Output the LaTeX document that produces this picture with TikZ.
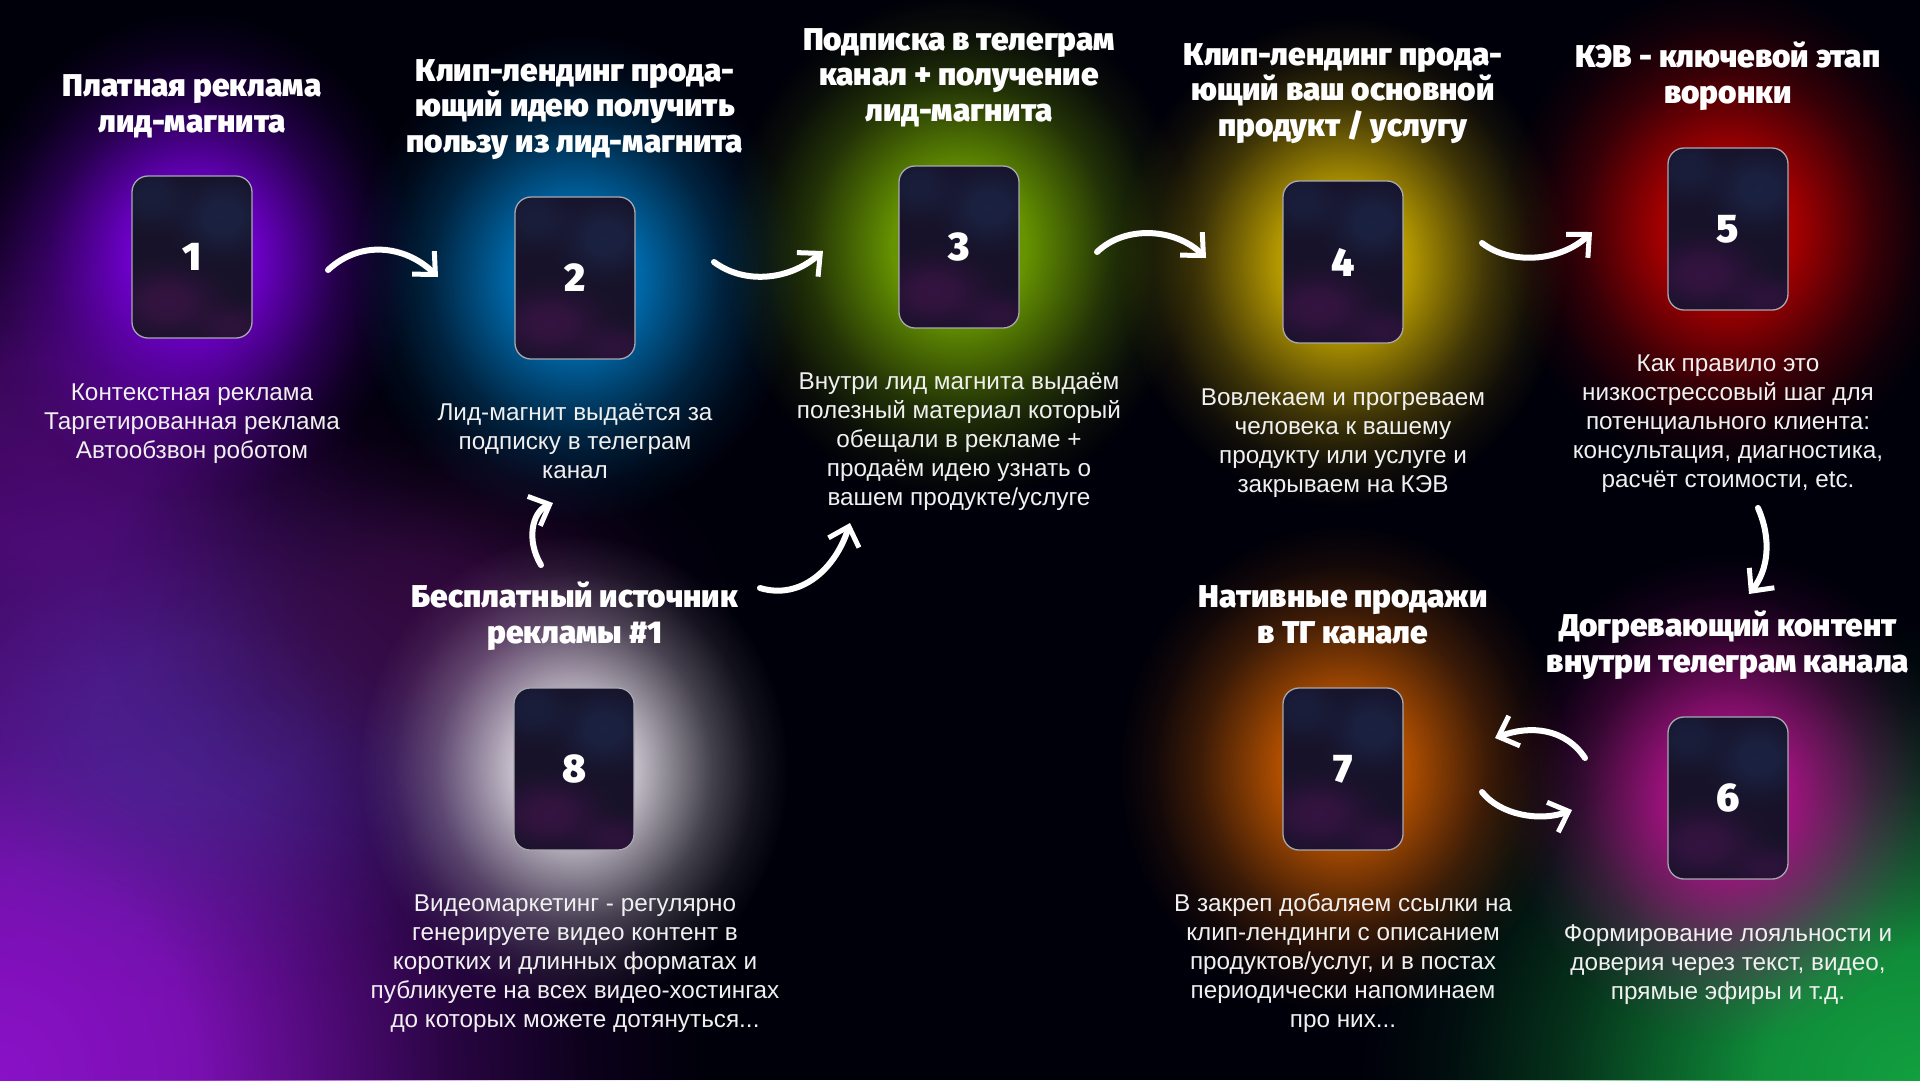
\documentclass[tikz,border=0pt]{standalone}
\usepackage{fontspec}
\setmainfont{Liberation Sans}
\newfontfamily\heavy{Fira Sans Black}
\usetikzlibrary{arrows.meta,fadings}
\pgfdeclareradialshading{glowsh}{\pgfpoint{0bp}{0bp}}{color(0bp)=(white); color(7bp)=(white!88!black); color(11bp)=(white!62!black); color(16bp)=(white!30!black); color(21bp)=(white!9!black); color(25bp)=(black); color(50bp)=(black)}
\pgfdeclarefading{glowfade}{\pgfuseshading{glowsh}}
\definecolor{cbase}{HTML}{171229}
\definecolor{cpurp}{HTML}{3E1448}
\definecolor{cblue}{HTML}{1C284A}
\definecolor{cborder}{HTML}{A8A8B0}
\definecolor{gA}{HTML}{7A00E0}
\definecolor{gB}{HTML}{0078C0}
\definecolor{gC}{HTML}{74A800}
\definecolor{gD}{HTML}{D0B000}
\definecolor{gE}{HTML}{C00000}
\definecolor{gF}{HTML}{B0108A}
\definecolor{gG}{HTML}{C85A00}
\definecolor{gH}{HTML}{E0DAE4}
\definecolor{hzpurple}{HTML}{8A12C8}
\definecolor{hzviolet}{HTML}{4A2A9A}
\definecolor{hzdark}{HTML}{3A0A44}
\definecolor{hzgreen}{HTML}{12A040}
\tikzset{
  glow/.style={fill=#1, path fading=glowfade},
  cardbox/.style={draw=cborder, line width=1.3pt, rounded corners=16pt,
    minimum width=120pt, minimum height=162pt, inner sep=0pt, text=white,
    font=\heavy\fontsize{40}{40}\selectfont},
  title/.style={text=white, align=center, anchor=base,
    font=\heavy\fontsize{31.5}{35.5}\selectfont},
  body/.style={text=white!94!black, align=center, anchor=base,
    font=\fontsize{24.3}{28.8}\selectfont},
  brush/.style={draw=white, line width=6pt, line cap=round,
    -{Straight Barb[length=17pt,width=32pt,line width=5pt]}},
}
\newcommand\mycard[4]{%
  \begin{scope}
    \clip[rounded corners=16pt] (#2-60,#3-81) rectangle (#2+60,#3+81);
    \fill[cbase] (#2-60,#3-81) rectangle (#2+60,#3+81);
    \fill[glow=cpurp, opacity=0.75] (#2-25,#3+45) ellipse (75pt and 50pt);
    \fill[glow=cblue, opacity=0.75] (#2+30,#3-40) ellipse (65pt and 55pt);
    \fill[glow=cpurp, opacity=0.55] (#2+40,#3+70) ellipse (55pt and 35pt);
    \fill[glow=cblue, opacity=0.55] (#2-40,#3-60) ellipse (50pt and 45pt);
  \end{scope}
  \node[cardbox] (#1) at (#2,#3) {#4};
}
\begin{document}
\begin{tikzpicture}[x=1pt,y=-1pt]
\useasboundingbox (0,0) rectangle (1920,1080);
\fill[black!96!blue] (0,0) rectangle (1920,1080);
\begin{scope}
\clip (0,0) rectangle (1920,1080);
% background haze
\fill[glow=hzpurple] (0,1080) ellipse (700pt and 760pt);
\fill[glow=hzviolet, opacity=0.7] (200,720) ellipse (380pt and 280pt);
\fill[glow=hzpurple, opacity=0.45] (40,450) ellipse (380pt and 320pt);
\fill[glow=hzdark, opacity=0.8] (420,620) ellipse (320pt and 220pt);
\fill[glow=hzgreen] (1920,1080) ellipse (560pt and 460pt);
% card glows
\fill[glow=gA] (192,257) ellipse (225pt and 245pt);
\fill[glow=gB] (575,278) ellipse (225pt and 245pt);
\fill[glow=gC] (959,247) ellipse (235pt and 255pt);
\fill[glow=gD] (1343,262) ellipse (225pt and 245pt);
\fill[glow=gE] (1728,229) ellipse (225pt and 245pt);
\fill[glow=gF] (1728,798) ellipse (225pt and 245pt);
\fill[glow=gG] (1343,769) ellipse (225pt and 245pt);
\fill[glow=gH] (574,769) ellipse (215pt and 235pt);
\end{scope}
% cards
\mycard{c1}{192}{257}{1}
\mycard{c2}{575}{278}{2}
\mycard{c3}{959}{247}{3}
\mycard{c4}{1343}{262}{4}
\mycard{c5}{1728}{229}{5}
\mycard{c6}{1728}{798}{6}
\mycard{c7}{1343}{769}{7}
\mycard{c8}{574}{769}{8}
% titles (anchor = baseline of last line)
\node[title] (t1) at (192,132) {Платная реклама\\лид-магнита};
\node[title] (t2) at (575,152) {Клип-лендинг прода-\\ющий идею получить\\пользу из лид-магнита};
\node[title] (t3) at (959,121) {Подписка в телеграм\\канал + получение\\лид-магнита};
\node[title] (t4) at (1343,136) {Клип-лендинг прода-\\ющий ваш основной\\продукт / услугу};
\node[title] (t5) at (1728,103) {КЭВ - ключевой этап\\воронки};
\node[title] (t8) at (575,643) {Бесплатный источник\\рекламы \#1};
\node[title] (t7) at (1343,643) {Нативные продажи\\в ТГ канале};
\node[title] (t6) at (1728,672) {Догревающий контент\\внутри телеграм канала};
% bodies (anchor = baseline of last line)
\node[body] (b1) at (192,458) {Контекстная реклама\\Таргетированная реклама\\Автообзвон роботом};
\node[body] (b2) at (575,478) {Лид-магнит выдаётся за\\подписку в телеграм\\канал};
\node[body] (b3) at (959,505) {Внутри лид магнита выдаём\\полезный материал который\\обещали в рекламе +\\продаём идею узнать о\\вашем продукте/услуге};
\node[body] (b4) at (1343,492) {Вовлекаем и прогреваем\\человека к вашему\\продукту или услуге и\\закрываем на КЭВ};
\node[body] (b5) at (1728,487) {Как правило это\\низкострессовый шаг для\\потенциального клиента:\\консультация, диагностика,\\расчёт стоимости, etc.};
\node[body] (b8) at (575,1027) {Видеомаркетинг - регулярно\\генерируете видео контент в\\коротких и длинных форматах и\\публикуете на всех видео-хостингах\\до которых можете дотянуться...};
\node[body] (b7) at (1343,1027) {В закреп добаляем ссылки на\\клип-лендинги с описанием\\продуктов/услуг, и в постах\\периодически напоминаем\\про них...};
\node[body] (b6) at (1728,999) {Формирование лояльности и\\доверия через текст, видео,\\прямые эфиры и т.д.};
% arrow end points
\coordinate (a12s) at (328,270);  \coordinate (a12e) at (438,277);
\coordinate (a23s) at (714,262);  \coordinate (a23e) at (823,251);
\coordinate (a34s) at (1097,252); \coordinate (a34e) at (1206,258);
\coordinate (a45s) at (1482,243); \coordinate (a45e) at (1592,232);
\coordinate (a56s) at (1758,508); \coordinate (a56e) at (1749,594);
\coordinate (a67s) at (1585,758); \coordinate (a67e) at (1495,738);
\coordinate (a76s) at (1482,792); \coordinate (a76e) at (1572,810);
\coordinate (a82s) at (541,565);  \coordinate (a82e) at (553,503);
\coordinate (a83s) at (760,588);  \coordinate (a83e) at (850,523);
\draw[brush] (a12s) .. controls (360,240) and (405,245) .. (a12e);
\draw[brush] (a23s) .. controls (745,285) and (790,280) .. (a23e);
\draw[brush] (a34s) .. controls (1125,225) and (1175,228) .. (a34e);
\draw[brush] (a45s) .. controls (1510,265) and (1560,262) .. (a45e);
\draw[brush] (a56s) .. controls (1772,540) and (1768,570) .. (a56e);
\draw[brush] (a67s) .. controls (1565,728) and (1530,725) .. (a67e);
\draw[brush] (a76s) .. controls (1500,815) and (1540,822) .. (a76e);
\draw[brush] (a82s) .. controls (526,540) and (532,512) .. (a82e);
\draw[brush] (a83s) .. controls (800,600) and (835,570) .. (a83e);
\end{tikzpicture}
\end{document}
